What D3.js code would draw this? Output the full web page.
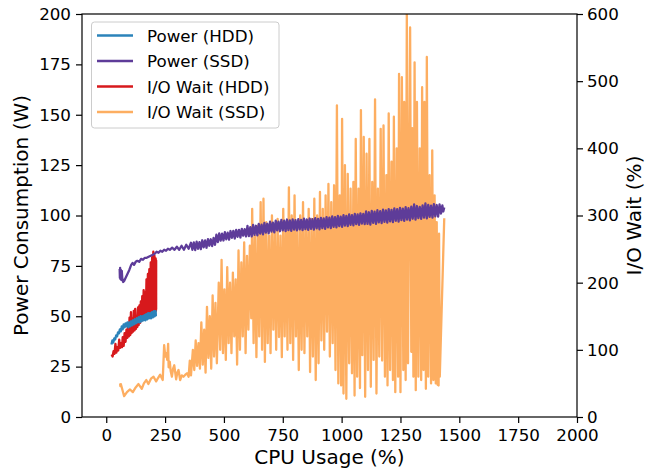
<!DOCTYPE html>
<html>
<head>
<meta charset="utf-8">
<script src="https://cdn.jsdelivr.net/npm/d3@7"></script>
<style>
  body { margin: 0; background: #fff; }
  svg { font-family: "DejaVu Sans", sans-serif; }
</style>
</head>
<body>
<svg id="chart" width="655" height="474"></svg>
<script>
// [cpu %, watts]
const powerHdd = [[22,36],[26,38],[30,37],[34,39],[38,38.5],[42,40.5],[46,40],[50,42],[54,41.5],[58,43.5],[62,42.5],[66,45],[70,43.5],[74,46],[78,44.5],[82,46.5],[86,45],[90,47],[94,44.5],[98,47],[102,45],[106,47.5],[110,45.5],[114,48],[118,46],[122,48.5],[126,46.5],[130,49],[134,47],[138,49.5],[142,47],[146,50],[150,47.5],[154,50],[158,48],[162,50.5],[166,48],[170,51],[174,48.5],[178,51.5],[182,49],[186,51.5],[190,49],[194,52],[198,49.5],[202,52.5],[206,50],[210,52.5],[211,50]];

const powerSsd = [[57,73.5],[58,69],[59,74],[60,68.5],[62,73],[64,68],[66,72.5],[68,69],[72,67],[76,67.5],[82,69],[90,71],[98,73],[106,75.5],[112,76.5],[118,75.5],[125,77],[132,77.5],[140,77],[148,78.5],[156,78],[164,79],[172,79],[180,79.5],[189,80],[198,80.5],[206,81],[214,82],[222,81.5],[230,82.5],[238,82],[246,83],[254,82.5],[262,83.5],[270,83],[280,84],[290,83],[300,84.5],[310,83],[320,85],[330,83],[340,85.5],[350,83.5],
  [360,86.5],[366,83],[372,86.6],[378,82.8],[384,87],[390,83.5],[396,86.8],[402,83.3],[408,87.7],[414,84.2],[420,87.6],[426,84],[432,88.3],[438,85],[444,88.2],[450,84.8],[456,88.9],[462,85.5],[468,90.5],[474,86.8],[480,91.1],[486,87.5],[492,91],[498,87.6],[504,91.7],[510,88.2],[516,91.5],[522,88],[528,92.3],[534,88.9],[540,92.4],[546,88.6],[552,92.8],[558,89.4],[564,92.9],[570,89.1],[576,93.4],[582,90],[588,93.2],[594,89.6],
  [600,94.8],[606,89.8],[612,94.2],[618,89.6],[624,95.3],[630,90.4],[636,94.9],[642,90.1],[648,95.8],[654,91],[660,95.5],[666,90.6],[672,96.3],[678,91.5],[684,95.9],[690,91.1],[696,96.9],[702,92],[708,96.5],[714,91.6],[720,97.4],[726,92.6],[732,97],[738,92.2],[744,97.8],[750,92.6],[756,97.4],[762,92.3],[768,98],[774,92.8],[780,97.6],[786,92.4],[792,98.1],[798,93],[804,97.7],[810,92.6],[816,98.2],[822,93.1],[828,97.8],[834,92.7],[840,98.4],[846,93.3],[852,98],[858,92.9],[864,98.5],[870,93.4],[876,98.2],[882,93],[888,98.7],[894,93.6],[900,98.3],[906,93.1],[912,98.8],[918,93.8],[924,98.6],[930,93.4],[936,99.2],[942,94.1],[948,98.9],[954,93.7],[960,99.5],[966,94.4],[972,99.2],[978,94.1],[984,99.8],[990,94.7],[996,99.4],
  [1002,94.4],[1008,100.2],[1014,95],[1020,99.8],[1026,94.7],[1032,100.5],[1038,95.4],[1044,100.2],[1050,95.1],[1056,100.8],[1062,95.7],[1068,100.5],[1074,95.4],[1080,101.1],[1086,96],[1092,100.8],[1098,95.7],[1104,102],[1110,95.9],[1116,101.6],[1122,95.5],[1128,102.3],[1134,96.3],[1140,101.9],[1146,95.9],[1152,102.6],[1158,96.6],[1164,102.2],[1170,96.2],[1176,102.9],[1182,96.9],[1188,102.5],[1194,96.5],[1200,103.2],[1206,97.1],[1212,102.8],[1218,96.7],[1224,103.5],[1230,97.4],[1236,103.1],[1242,97],[1248,103.8],[1254,97.7],[1260,103.4],[1266,97.3],[1272,104.1],[1278,98],[1284,103.7],[1290,97.6],[1296,104.4],[1302,98.4],[1308,105.5],[1314,98],[1320,104.7],[1326,98.7],[1332,104.3],[1338,98.3],[1344,105],[1350,99],[1356,106],[1362,98.6],[1368,105.3],[1374,99.3],[1380,104.9],[1386,98.9],[1392,105.6],[1398,99.6],[1404,105.2],[1410,99.4],[1416,105.5],[1422,101],[1428,105],[1432,102],[1436,104]];

// [cpu %, io wait %]
const ioHdd = [[23,93],[27,90],[31,98],[35,94],[39,109],[43,96],[47,104],[51,99],[55,115],[59,103],[63,110],[67,104],[70,119],[74,106],[78,125],[82,112],[86,130],
  [90,118],[93,138],[96,120],[99,148],[102,122],[105,156],[108,125],[111,146],[114,127],[117,158],[120,129],[123,161],[126,131],[129,150],[132,134],[135,163],[138,137],[141,166],[144,140],[147,172],[150,143],[153,180],[156,146],[159,189],[162,147],[165,185],[168,149],[171,205],[174,151],[177,213],[180,152],[183,220],[186,154],[189,230],[192,155],[195,238],[198,157],[200,246],[203,158],[205,240],[208,160],[210,236],[211,158],[212,233],[212,160]];

const ioSsd = [[59,50],[60,46],[62,49],[66,44],[76,31],[88,37],[101,41],[113,37],[125,44],[137,49],[151,42],[160,50],[170,55],[179,49],[190,57],[201,60],[212,53],[220,58],[229,63],[240,55],[246,107],[251,90],[255,95],[259,85],[263,109],[265,74],[270,82],[274,68],[279,60],[284,72],[289,77],[297,56],[302,66],[307,70],[314,55],[321,62],[328,60],[336,63],[343,65],[350,60],
  [355,84],[360,62],[368,100],[374,70],[380,114],[386,76],[392,110],[398,72],[404,141],[410,78],[416,130],[422,66],[428,164],[434,88],[440,150],[446,72],[452,181],[458,90],[464,170],[470,80],[478,200],[484,100],[490,234],[496,95],[502,190],[508,85],[514,223],[520,110],[526,200],[532,95],[538,215],[544,120],[550,205],[556,78],[562,248],[568,100],[574,230],[580,120],[586,260],[592,95],[598,240],[604,130],[610,255],[616,147],[620,310],[626,110],[632,270],[638,89],[644,285],[650,120],[656,320],[662,100],[668,325],[674,82],[680,290],[686,110],[692,270],[698,95],[704,300],[710,130],[716,280],[722,100],[728,295],[734,119],[740,270],[746,89],[752,310],[758,120],[764,290],[770,100],[776,342],[782,110],[788,300],[794,85],[800,330],[806,120],[812,285],[818,70],[824,300],[830,100],[836,320],[842,95],[848,290],[854,120],[860,310],[866,67],[872,295],[878,90],[884,325],[890,55],[896,300],[902,80],[908,335],[914,114],[920,310],[926,100],[932,330],[938,127],[944,347],[950,90],[956,320],[962,110],[968,345],[974,70],[980,464],[986,50],[992,330],[998,47],
  [1002,444],[1008,35],[1014,375],[1020,27],[1026,362],[1032,80],[1038,340],[1044,65],[1050,350],[1055,32],[1060,414],[1066,60],[1072,340],[1078,43],[1082,457],[1088,92],[1094,417],[1100,30],[1106,392],[1112,70],[1118,414],[1124,45],[1130,350],[1136,85],[1142,473],[1148,35],[1154,340],[1160,90],[1166,429],[1172,84],[1178,434],[1184,60],[1190,360],[1195,47],[1200,452],[1206,70],[1212,380],[1218,55],[1222,447],[1228,37],[1234,400],[1240,60],[1244,511],[1250,37],[1256,506],[1262,70],[1266,469],[1272,55],[1277,600],[1282,80],[1291,580],[1296,97],[1300,430],[1305,60],[1310,528],[1315,40],[1320,469],[1326,60],[1332,400],[1338,55],[1342,491],[1348,70],[1352,469],[1358,42],[1362,536],[1368,60],[1374,360],[1380,50],[1385,397],[1390,55],[1395,330],[1400,50],[1404,290],[1408,48],[1412,47],[1414,273],[1417,60],[1436,296]];

const xTicks = [0, 250, 500, 750, 1000, 1250, 1500, 1750, 2000];
const powerTicks = [0, 25, 50, 75, 100, 125, 150, 175, 200];
const ioTicks = [0, 100, 200, 300, 400, 500, 600];

const seriesNames = ["Power (HDD)", "Power (SSD)", "I/O Wait (HDD)", "I/O Wait (SSD)"];
const seriesColors = ["#2b83ba", "#5e3c99", "#d7191c", "#fdae61"];

const svg = d3.select("#chart");
const plotLeft = 82, plotRight = 577, plotTop = 14, plotBottom = 417;
const fontSize = 16.7;

const x = d3.scaleLinear().domain([-103, 2000]).range([plotLeft, plotRight]);
const yPower = d3.scaleLinear().domain([0, 200]).range([plotBottom, plotTop]);
const yIo = d3.scaleLinear().domain([0, 600]).range([plotBottom, plotTop]);

svg.append("defs").append("clipPath").attr("id", "plot-clip")
  .append("rect").attr("x", plotLeft).attr("y", plotTop)
  .attr("width", plotRight - plotLeft).attr("height", plotBottom - plotTop);

const plot = svg.append("g").attr("clip-path", "url(#plot-clip)");

function drawLine(data, yScale, color) {
  const line = d3.line().x(d => x(d[0])).y(d => yScale(d[1]));
  plot.append("path")
    .datum(data)
    .attr("d", line)
    .attr("fill", "none")
    .attr("stroke", color)
    .attr("stroke-width", 2.3)
    .attr("stroke-linejoin", "round");
}

// io wait axis sits underneath the power lines
drawLine(ioSsd, yIo, seriesColors[3]);
drawLine(ioHdd, yIo, seriesColors[2]);
drawLine(powerHdd, yPower, seriesColors[0]);
drawLine(powerSsd, yPower, seriesColors[1]);

// axes
function styleAxis(g) {
  g.selectAll("text").attr("font-size", fontSize).attr("fill", "#000")
    .attr("font-family", "DejaVu Sans, sans-serif");
  g.selectAll("line").attr("stroke", "#000").attr("stroke-width", 1.2);
  g.select(".domain").remove();
}

svg.append("g").attr("transform", `translate(0,${plotBottom})`)
  .call(d3.axisBottom(x).tickValues(xTicks).tickSize(6).tickPadding(6).tickFormat(d3.format("d")))
  .call(styleAxis);

svg.append("g").attr("transform", `translate(${plotLeft},0)`)
  .call(d3.axisLeft(yPower).tickValues(powerTicks).tickSize(6).tickPadding(5).tickFormat(d3.format("d")))
  .call(styleAxis);

svg.append("g").attr("transform", `translate(${plotRight},0)`)
  .call(d3.axisRight(yIo).tickValues(ioTicks).tickSize(6).tickPadding(4).tickFormat(d3.format("d")))
  .call(styleAxis);

svg.append("rect")
  .attr("x", plotLeft).attr("y", plotTop)
  .attr("width", plotRight - plotLeft).attr("height", plotBottom - plotTop)
  .attr("fill", "none").attr("stroke", "#000").attr("stroke-width", 1.2);

// axis labels
svg.append("text")
  .attr("x", (plotLeft + plotRight) / 2).attr("y", 464)
  .attr("text-anchor", "middle").attr("font-size", 20)
  .text("CPU Usage (%)");

svg.append("text")
  .attr("transform", `translate(28,${(plotTop + plotBottom) / 2}) rotate(-90)`)
  .attr("text-anchor", "middle").attr("font-size", 20)
  .text("Power Consumption (W)");

svg.append("text")
  .attr("transform", `translate(641,${(plotTop + plotBottom) / 2}) rotate(-90)`)
  .attr("text-anchor", "middle").attr("font-size", 20)
  .text("I/O Wait (%)");

// legend
const legend = svg.append("g");
legend.append("rect")
  .attr("x", 91.5).attr("y", 22)
  .attr("width", 187.5).attr("height", 106)
  .attr("rx", 3)
  .attr("fill", "#fff").attr("fill-opacity", 0.8)
  .attr("stroke", "#cccccc").attr("stroke-width", 1);

seriesNames.forEach((name, i) => {
  const cy = 35.5 + i * 25.5;
  legend.append("line")
    .attr("x1", 97).attr("x2", 133)
    .attr("y1", cy).attr("y2", cy)
    .attr("stroke", seriesColors[i]).attr("stroke-width", 2.3);
  legend.append("text")
    .attr("x", 147).attr("y", cy + 6)
    .attr("font-size", fontSize)
    .text(name);
});
</script>
</body>
</html>
